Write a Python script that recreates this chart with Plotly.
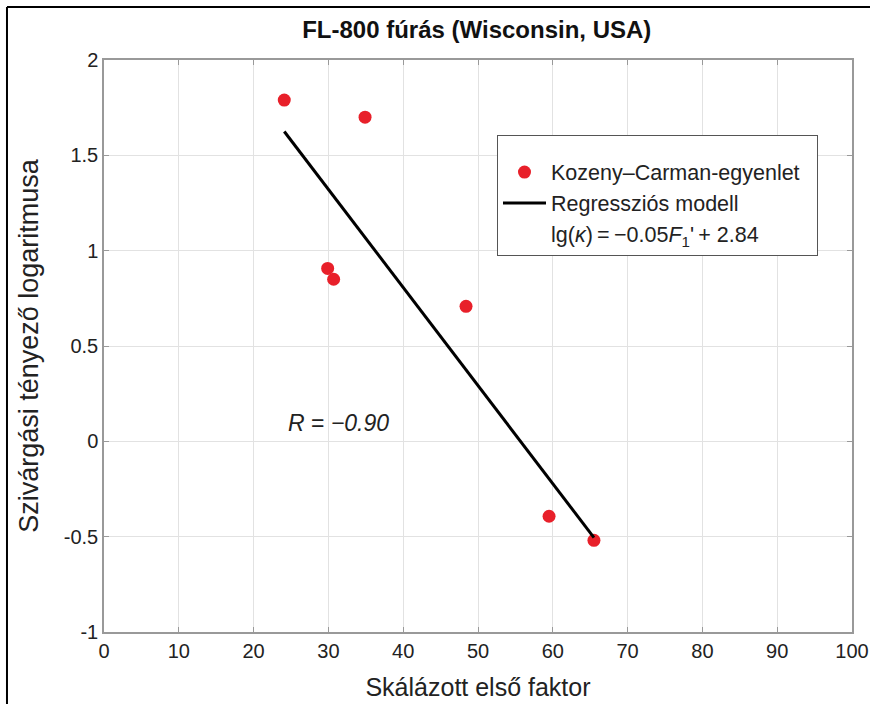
import plotly.graph_objects as go

# Data
kc_x = [24.1, 34.9, 29.9, 30.7, 48.4, 59.5, 65.5]
kc_y = [1.79, 1.70, 0.907, 0.85, 0.708, -0.393, -0.519]
line_x = [24.1, 65.5]
line_y = [1.625, -0.505]
x_ticks = [0, 10, 20, 30, 40, 50, 60, 70, 80, 90, 100]
y_ticks = [-1, -0.5, 0, 0.5, 1, 1.5, 2]
y_tick_labels = ["-1", "-0.5", "0", "0.5", "1", "1.5", "2"]

FONT = "Liberation Sans, Arial, sans-serif"

fig = go.Figure()
fig.add_trace(go.Scatter(
    x=kc_x, y=kc_y, mode="markers", name="Kozeny\u2013Carman-egyenlet\u00a0\u00a0",
    marker=dict(color="#e8202a", size=13, line=dict(width=0)),
))
fig.add_trace(go.Scatter(
    x=line_x, y=line_y, mode="lines", name="Regressziós modell",
    line=dict(color="black", width=3),
))
fig.add_trace(go.Scatter(
    x=[None], y=[None], mode="lines",
    name="lg(<i>\u03ba</i>)\u2009=\u2009\u22120.05<i>F</i><sub>1</sub>'\u2009+ 2.84",
    line=dict(color="rgba(0,0,0,0)", width=0),
))

fig.update_layout(
    width=870, height=704,
    margin=dict(l=104, r=18, t=60, b=72),
    paper_bgcolor="white", plot_bgcolor="white",
    font=dict(family=FONT, color="#222", size=20),
    title=dict(text="<b>FL-800 fúrás (Wisconsin, USA)</b>", x=0.548, xanchor="center",
               y=0.958, yanchor="middle", font=dict(size=24, family=FONT, color="#111")),
    showlegend=True,
    legend=dict(x=0.5254, y=0.8689, xanchor="left", yanchor="top",
                bordercolor="#555", borderwidth=1, bgcolor="white",
                font=dict(size=21.5, family=FONT, color="#222"),
                title=dict(text=" ", font=dict(size=12)),
                itemwidth=43),
    xaxis=dict(range=[0, 100], tickvals=x_ticks, showgrid=True, gridcolor="#e2e2e2",
               showline=True, linecolor="#999", linewidth=1.5, mirror="ticks",
               ticks="inside", ticklen=5, tickcolor="#999", zeroline=False,
               tickfont=dict(size=20), automargin=False,
               title=dict(text="Skálázott első faktor", font=dict(size=25), standoff=18)),
    yaxis=dict(range=[-1, 2], tickvals=y_ticks, ticktext=y_tick_labels, showgrid=True,
               gridcolor="#e2e2e2", showline=True, linecolor="#999", linewidth=1.5,
               mirror="ticks", ticks="inside", ticklen=5, tickcolor="#999", zeroline=False,
               tickfont=dict(size=20), automargin=False,
               title=dict(text="Szivárgási tényező logaritmusa", font=dict(size=27), standoff=17)),
)

fig.add_annotation(x=31.3, y=0.096, xref="x", yref="y", showarrow=False,
                   text="<i>R</i> = <i>\u22120.90</i>", font=dict(size=23, family=FONT, color="#222"))

# outer frame lines (image border)
fig.add_shape(type="line", xref="paper", yref="paper", x0=-0.1297, x1=1.1, y0=1.0927, y1=1.0927,
              line=dict(color="black", width=2))
fig.add_shape(type="line", xref="paper", yref="paper", x0=-0.1297, x1=-0.1297, y0=1.0927, y1=-0.3,
              line=dict(color="black", width=2))

fig.write_html("out.html", config={"displayModeBar": False},
               post_script="document.body.style.margin='0';document.body.style.overflow='hidden';")
